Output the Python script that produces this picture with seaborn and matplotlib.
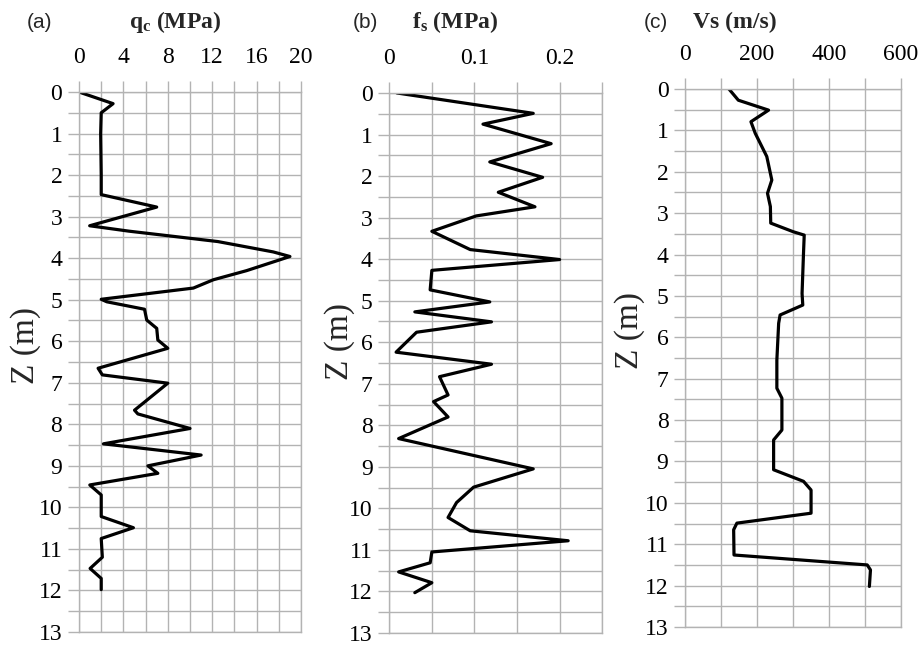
import matplotlib
matplotlib.use("Agg")
import matplotlib.pyplot as plt
import seaborn as sns
from matplotlib.ticker import MultipleLocator

# values (depth in m)
qc_z = [0, 0.28, 0.5, 1.0, 2.0, 2.47, 2.77, 3.22, 3.35, 3.6, 3.85, 3.96, 4.3, 4.52, 4.72, 4.99,
        5.05, 5.23, 5.49, 5.69, 5.97, 6.17, 6.65, 6.81, 7.01, 7.66, 7.75, 8.1, 8.47, 8.74, 9.0,
        9.18, 9.46, 9.7, 10.22, 10.49, 10.75, 11.2, 11.47, 11.71, 11.98]
qc_val = [0, 3.07, 2.0, 1.95, 2.0, 2.0, 7.0, 0.96, 4.5, 12.5, 17.5, 19.0, 15.1, 12.1, 10.3, 2.0,
          2.5, 5.9, 6.1, 7.0, 7.1, 8.0, 1.72, 2.1, 8.0, 5.0, 5.3, 10.0, 2.2, 11.0, 6.2,
          7.1, 0.97, 2.0, 2.0, 4.9, 2.0, 2.1, 1.0, 2.0, 2.0]

fs_z = [0, 0.49, 0.75, 1.22, 1.66, 2.03, 2.39, 2.74, 2.96, 3.33, 3.77, 4.01, 4.27, 4.74, 5.03,
        5.27, 5.51, 5.76, 5.96, 6.24, 6.53, 6.83, 7.27, 7.43, 7.8, 8.32, 9.05, 9.49, 9.86, 10.22,
        10.54, 10.78, 11.05, 11.31, 11.53, 11.79, 12.03]
fs_val = [0.009, 0.169, 0.110, 0.190, 0.118, 0.180, 0.128, 0.171, 0.102, 0.050, 0.095, 0.200,
          0.050, 0.048, 0.118, 0.030, 0.120, 0.032, 0.022, 0.008, 0.120, 0.059, 0.069, 0.052,
          0.069, 0.011, 0.169, 0.099, 0.079, 0.069, 0.095, 0.210, 0.050, 0.048, 0.011, 0.050, 0.030]

vs_z = [0, 0.27, 0.51, 0.79, 1.07, 1.63, 2.2, 2.52, 2.84, 3.24, 3.45, 3.53, 3.97, 4.94, 5.22,
        5.46, 5.66, 6.55, 6.87, 7.23, 7.47, 8.24, 8.48, 9.2, 9.48, 9.69, 10.25, 10.49, 10.65,
        11.26, 11.5, 11.62, 12.02]
vs_val = [122, 148, 232, 183, 195, 227, 241, 229, 237, 238, 301, 331, 329, 325, 327,
          264, 260, 255, 255, 255, 269, 269, 246, 246, 329, 350, 350, 144, 135,
          136, 506, 515, 512]

panels = [
    dict(x=qc_val, z=qc_z, xmax=20, major=4, minor=2, tag="(a)",
         title=r"$\mathbf{q_c}$ (MPa)", rect=[0.0857, 0.0247, 0.2408, 0.8333],
         labx=-0.172, laby=0.53),
    dict(x=fs_val, z=fs_z, xmax=0.25, major=0.1, minor=0.05, tag="(b)",
         title=r"$\mathbf{f_s}$ (MPa)", rect=[0.4222, 0.0232, 0.2310, 0.8333],
         labx=-0.16, laby=0.54),
    dict(x=vs_val, z=vs_z, xmax=600, major=200, minor=100, tag="(c)",
         title="Vs (m/s)", rect=[0.7430, 0.0324, 0.2343, 0.8302],
         labx=-0.185, laby=0.552),
]
tag_x = [0.043, 0.396, 0.711]
title_x = [0.19, 0.494, 0.797]

sns.set_style("white")
plt.rcParams["font.family"] = ["Liberation Serif", "DejaVu Serif"]
plt.rcParams["mathtext.fontset"] = "custom"
plt.rcParams["mathtext.rm"] = "Liberation Serif"
plt.rcParams["mathtext.bf"] = "Liberation Serif:bold"

fig = plt.figure(figsize=(9.22, 6.48), dpi=100)

for i, p in enumerate(panels):
    ax = fig.add_axes(p["rect"])
    sns.lineplot(x=p["x"], y=p["z"], sort=False, estimator=None, color="black", lw=2.3, ax=ax)
    ax.set_xlim(0, p["xmax"])
    ax.set_ylim(13, 0)
    ax.xaxis.set_major_locator(MultipleLocator(p["major"]))
    ax.xaxis.set_minor_locator(MultipleLocator(p["minor"]))
    ax.yaxis.set_major_locator(MultipleLocator(1))
    ax.yaxis.set_minor_locator(MultipleLocator(0.5))
    if i == 1:
        ax.set_xticks([0, 0.1, 0.2])
        ax.set_xticklabels(["0", "0.1", "0.2"])
    ax.xaxis.tick_top()
    ax.grid(True, which="both", color="#b3b3b3", lw=1)
    for s in ax.spines.values():
        s.set_color("#b3b3b3")
        s.set_linewidth(1)
    ax.tick_params(which="both", direction="out", color="#b3b3b3", length=8, width=1,
                   labelsize=17, labelcolor="black", labelfontfamily="Liberation Serif")
    ax.tick_params(axis="x", which="both", top=True, bottom=False, pad=9)
    ax.tick_params(axis="y", which="both", left=True, pad=4)
    ax.set_ylabel("Z (m)", fontsize=24)
    ax.yaxis.set_label_coords(p["labx"], p["laby"])
    ax.set_xlabel("")
    fig.text(tag_x[i], 0.966, p["tag"], fontsize=15, family="Liberation Sans",
             ha="center", va="center")
    fig.text(title_x[i], 0.966, p["title"], fontsize=17, fontweight="bold",
             ha="center", va="center")

fig.savefig("out.png", dpi=100)
